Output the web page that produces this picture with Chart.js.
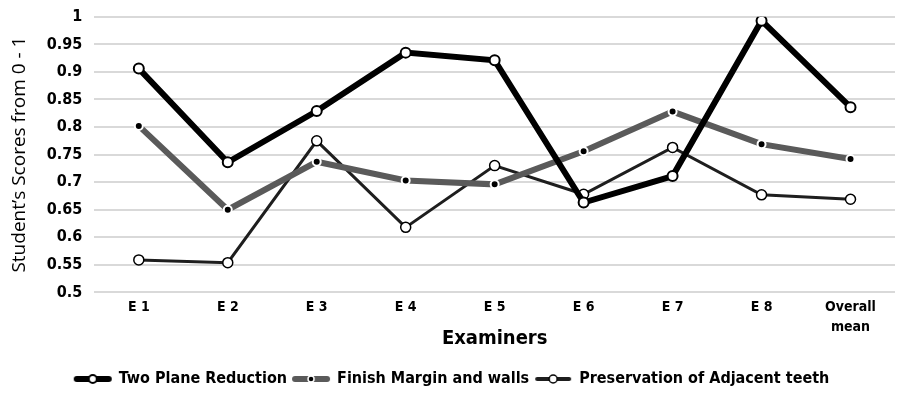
<!DOCTYPE html>
<html>
<head>
<meta charset="utf-8">
<script src="https://cdn.jsdelivr.net/npm/chart.js@4"></script>
<style>
  html, body { margin: 0; padding: 0; background: #fff; }
  #wrap { width: 902px; height: 397px; }
</style>
</head>
<body>
<div id="wrap"><canvas id="chart" width="902" height="397"></canvas></div>
<script>
// Data
const examiners = ['E 1', 'E 2', 'E 3', 'E 4', 'E 5', 'E 6', 'E 7', 'E 8', ['Overall', 'mean']];
const twoPlane = [0.906, 0.736, 0.829, 0.935, 0.921, 0.663, 0.711, 0.993, 0.836];
const finishMargin = [0.802, 0.650, 0.737, 0.703, 0.696, 0.756, 0.828, 0.769, 0.742];
const preservation = [0.559, 0.554, 0.775, 0.618, 0.730, 0.678, 0.763, 0.677, 0.669];
const yTicks = [0.5, 0.55, 0.6, 0.65, 0.7, 0.75, 0.8, 0.85, 0.9, 0.95, 1];

const font = "'Liberation Sans Narrow', 'DejaVu Sans Condensed', sans-serif";

// little legend swatches: line with marker in the middle
function swatch(color, lw, fill, border, r, bw) {
  const c = document.createElement('canvas');
  c.width = 40; c.height = 14;
  const g = c.getContext('2d');
  g.strokeStyle = color; g.lineWidth = lw; g.lineCap = 'round';
  g.beginPath(); g.moveTo(4, 7); g.lineTo(36, 7); g.stroke();
  g.beginPath(); g.arc(20, 7, r, 0, Math.PI * 2);
  g.fillStyle = fill; g.fill();
  g.lineWidth = bw; g.strokeStyle = border; g.stroke();
  return c;
}

const ctx = document.getElementById('chart').getContext('2d');
new Chart(ctx, {
  type: 'line',
  data: {
    labels: examiners,
    datasets: [
      {
        label: 'Two Plane Reduction',
        data: twoPlane,
        borderColor: '#000',
        borderWidth: 6,
        pointRadius: 5,
        pointBackgroundColor: '#fff',
        pointBorderColor: '#000',
        pointBorderWidth: 2,
        legendIcon: swatch('#000', 6, '#fff', '#000', 4, 2)
      },
      {
        label: 'Finish Margin and walls',
        data: finishMargin,
        borderColor: '#5a5a5a',
        borderWidth: 6,
        pointRadius: 4,
        pointBackgroundColor: '#000',
        pointBorderColor: '#fff',
        pointBorderWidth: 2,
        legendIcon: swatch('#5a5a5a', 6, '#000', '#fff', 3, 1.5)
      },
      {
        label: 'Preservation of Adjacent teeth',
        data: preservation,
        borderColor: '#1e1e1e',
        borderWidth: 3,
        pointRadius: 5,
        pointBackgroundColor: '#fff',
        pointBorderColor: '#000',
        pointBorderWidth: 1.5,
        legendIcon: swatch('#1e1e1e', 4, '#fff', '#000', 4, 1.5)
      }
    ]
  },
  options: {
    responsive: false,
    animation: false,
    layout: { padding: { top: 0, right: 2, left: 4, bottom: 0 } },
    plugins: {
      tooltip: { enabled: false },
      legend: {
        position: 'bottom',
        labels: {
          usePointStyle: true,
          pointStyleWidth: 36,
          color: '#000',
          padding: 6,
          font: { family: font, size: 16, weight: 'bold' },
          generateLabels: function(chart) {
            return chart.data.datasets.map(function(ds, i) {
              return {
                text: ds.label,
                pointStyle: ds.legendIcon,
                fillStyle: ds.borderColor,
                strokeStyle: ds.borderColor,
                lineWidth: 0,
                datasetIndex: i,
                hidden: false,
                fontColor: '#000'
              };
            });
          }
        }
      }
    },
    scales: {
      x: {
        offset: true,
        grid: { display: false },
        border: { display: false },
        ticks: {
          color: '#000',
          font: { family: font, size: 14, weight: 'bold', lineHeight: 1.45 },
          maxRotation: 0,
          padding: -3
        },
        title: {
          display: true,
          text: 'Examiners',
          color: '#000',
          font: { family: font, size: 20, weight: 'bold' },
          padding: { top: -8, bottom: 14 }
        }
      },
      y: {
        min: 0.5,
        max: 1,
        afterBuildTicks: function(axis) {
          axis.ticks = yTicks.map(function(v) { return { value: v }; });
        },
        grid: { color: '#d9d9d9', lineWidth: 2, drawTicks: false },
        border: { display: false },
        ticks: {
          color: '#000',
          padding: 12,
          font: { family: font, size: 16, weight: 'bold', lineHeight: 0.6 },
          callback: function(v) { return String(v); }
        },
        title: {
          display: true,
          text: 'Student\u2019s Scores from 0 - 1',
          color: '#000',
          font: { family: "'Open Sans', sans-serif", size: 19 },
          padding: { bottom: 4 }
        }
      }
    }
  }
});
</script>
</body>
</html>
